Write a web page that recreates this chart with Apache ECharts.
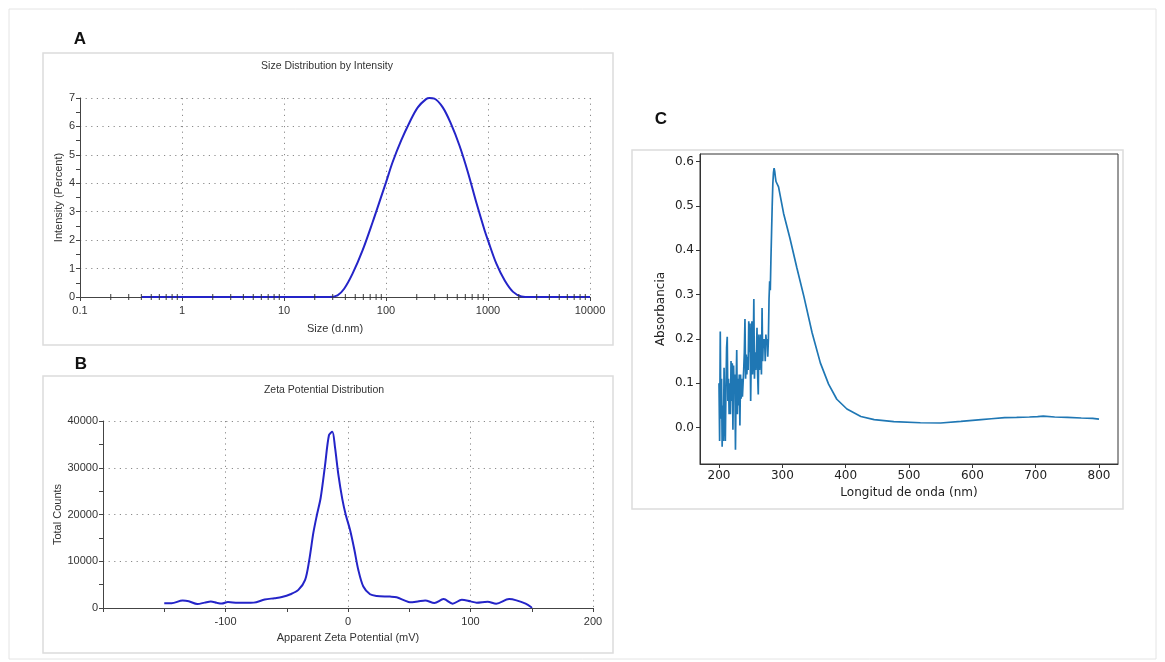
<!DOCTYPE html>
<html>
<head>
<meta charset="utf-8">
<script src="https://cdn.jsdelivr.net/npm/echarts@6/dist/echarts.min.js"></script>
<style>
  html, body { margin: 0; padding: 0; background: #fff; }
  #chart { width: 1165px; height: 662px; }
</style>
</head>
<body>
<div id="chart"></div>
<script>
// A - size distribution (log x)
var sizeNm = [0.4, 1, 10, 27.7, 33.5, 38.9, 47, 58.9, 73.9, 92.7, 100, 116, 140.6, 170, 205, 247, 267, 298, 360, 435, 526, 635, 767, 927, 1000, 1208, 1459, 1762, 2128, 2600, 10000];
var intensityPct = [0, 0, 0, 0, 0.06, 0.29, 0.82, 1.64, 2.63, 3.68, 4.03, 4.74, 5.5, 6.14, 6.67, 6.96, 7.0, 6.98, 6.67, 6.08, 5.32, 4.39, 3.33, 2.34, 1.99, 1.17, 0.58, 0.18, 0.02, 0, 0];
var sizeMinorTicks = [0.2, 0.3, 0.4, 0.5, 0.6, 0.7, 0.8, 0.9, 2, 3, 4, 5, 6, 7, 8, 9, 20, 30, 40, 50, 60, 70, 80, 90,
  200, 300, 400, 500, 600, 700, 800, 900, 2000, 3000, 4000, 5000, 6000, 7000, 8000, 9000];

// B - zeta potential
var zetaMv = [-150, -144, -135, -130, -123, -117, -112, -107, -103, -98, -90, -83, -77, -68, -60, -54, -47, -40.5, -35, -31.6, -28.3, -25.6, -22.3, -18.8, -15.5, -12.8, -10.6, -7.9, -4.6, -1.9, 1.6, 5.2, 8.4, 12.5, 18, 23.4, 34.3, 39.7, 46.5, 50.6, 57, 63, 70.5, 78, 85.4, 92.9, 100, 105, 114, 121, 131.5, 137.5, 145, 149.4, 150];
var zetaCounts = [1000, 1000, 1600, 1450, 850, 1150, 1400, 1100, 950, 1300, 1100, 1100, 1150, 1800, 2100, 2350, 2940, 3870, 6020, 10300, 16060, 19640, 23580, 30400, 37000, 37700, 34340, 28600, 23230, 20000, 16770, 12470, 8170, 4590, 2940, 2580, 2440, 2290, 1580, 1220, 1400, 1630, 1070, 1900, 920, 1780, 1420, 1140, 1350, 920, 1900, 1630, 920, 210, 0];

// C - UV-vis absorbance
var waveNm = [200, 201, 202, 203, 204, 205, 206, 207, 208, 209, 210, 211, 212, 213, 214, 215, 216, 217, 218, 219,
  220, 221, 222, 223, 224, 225, 226, 227, 228, 229, 230, 231, 232, 233, 234, 235, 236, 237, 238, 239,
  240, 241, 242, 243, 244, 245, 246, 247, 248, 249, 250, 251, 252, 253, 254, 255, 256, 257, 258, 259,
  260, 261, 262, 263, 264, 265, 266, 267, 268, 269, 270, 271, 272, 273, 274, 275, 276, 277, 278, 279,
  280, 281, 282, 283, 284, 285, 286, 287, 288, 289, 290, 294, 302, 312, 323, 334, 347, 360, 373, 386,
  402, 424, 445, 476, 518, 550, 582, 614, 630, 651, 670, 690, 703, 712, 730, 750, 772, 790, 800];
var absorbance = [0.10, -0.03, 0.217, 0.02, 0.11, -0.043, 0.05, -0.03, 0.135, 0.03, -0.03, 0.09, 0.18, 0.205, 0.06, 0.11, 0.03, 0.10, 0.03, 0.15,
  0.06, 0.145, -0.005, 0.14, 0.08, 0.12, -0.05, 0.09, 0.175, 0.03, 0.11, 0.05, 0.12, 0.005, 0.12, 0.065, 0.11, 0.07, 0.10, 0.13,
  0.17, 0.245, 0.11, 0.165, 0.12, 0.16, 0.13, 0.24, 0.17, 0.235, 0.06, 0.17, 0.24, 0.12, 0.165, 0.29, 0.11, 0.17, 0.13, 0.16,
  0.225, 0.12, 0.075, 0.21, 0.13, 0.17, 0.21, 0.12, 0.27, 0.15, 0.20, 0.18, 0.20, 0.15, 0.21, 0.19, 0.20, 0.16, 0.20, 0.29,
  0.33, 0.31, 0.38, 0.44, 0.50, 0.55, 0.575, 0.585, 0.578, 0.565, 0.555, 0.543, 0.483, 0.427, 0.36, 0.296, 0.214, 0.146, 0.098, 0.064,
  0.042, 0.025, 0.018, 0.0135, 0.011, 0.0105, 0.014, 0.018, 0.02, 0.0224, 0.023, 0.024, 0.025, 0.026, 0.024, 0.023, 0.0217, 0.021, 0.019];
var waveTicks = [200, 300, 400, 500, 600, 700, 800];
var absTicks = [0, 0.1, 0.2, 0.3, 0.4, 0.5, 0.6];

function zip(xs, ys) {
  return xs.map(function (x, i) { return [x, ys[i]]; });
}

var arial = '"Liberation Sans", Arial, sans-serif';
var dejavu = '"DejaVu Sans", sans-serif';
var blue = '#2424c8';
var dotted = { color: '#8a8a8a', width: 1, type: [1.2, 4.4] };

function malvernAxis(extra) {
  var base = {
    axisLine: { show: true, onZero: false, lineStyle: { color: '#444', width: 1 } },
    axisTick: { show: true, inside: false, length: 4, lineStyle: { color: '#444' } },
    axisLabel: { color: '#333', fontSize: 11, fontFamily: arial },
    nameTextStyle: { color: '#333', fontSize: 11, fontFamily: arial },
    nameLocation: 'middle',
    splitLine: { show: true, lineStyle: dotted }
  };
  return Object.assign(base, extra);
}

var chart = echarts.init(document.getElementById('chart'));
var option = {
  animation: false,
  backgroundColor: '#fff',
  graphic: [
    { type: 'rect', shape: { x: 9, y: 9, width: 1147, height: 650 }, style: { fill: 'none', stroke: '#e4e4e4', lineWidth: 1 }, silent: true },
    { type: 'rect', shape: { x: 43, y: 53, width: 570, height: 292 }, style: { fill: 'none', stroke: '#dcdcdc', lineWidth: 1.5 }, silent: true },
    { type: 'rect', shape: { x: 43, y: 376, width: 570, height: 277 }, style: { fill: 'none', stroke: '#dcdcdc', lineWidth: 1.5 }, silent: true },
    { type: 'rect', shape: { x: 632, y: 150, width: 491, height: 359 }, style: { fill: 'none', stroke: '#dcdcdc', lineWidth: 1.5 }, silent: true },
    { type: 'text', x: 80, y: 39, style: { text: 'A', align: 'center', verticalAlign: 'middle', fontSize: 17, fontWeight: 'bold', fontFamily: arial, fill: '#111' } },
    { type: 'text', x: 81, y: 364, style: { text: 'B', align: 'center', verticalAlign: 'middle', fontSize: 17, fontWeight: 'bold', fontFamily: arial, fill: '#111' } },
    { type: 'text', x: 661, y: 119, style: { text: 'C', align: 'center', verticalAlign: 'middle', fontSize: 17, fontWeight: 'bold', fontFamily: arial, fill: '#111' } },
    { type: 'text', x: 327, y: 66, style: { text: 'Size Distribution by Intensity', align: 'center', verticalAlign: 'middle', fontSize: 10.5, fontFamily: arial, fill: '#333' } },
    { type: 'text', x: 324, y: 390, style: { text: 'Zeta Potential Distribution', align: 'center', verticalAlign: 'middle', fontSize: 10.5, fontFamily: arial, fill: '#333' } }
  ],
  grid: [
    { left: 80, top: 98, width: 510, height: 199 },
    { left: 103, top: 421, width: 490, height: 187 },
    { left: 700, top: 154, width: 418, height: 310, show: true, borderColor: '#333', borderWidth: 1, backgroundColor: 'transparent' }
  ],
  xAxis: [
    malvernAxis({
      gridIndex: 0, type: 'log', logBase: 10, min: 0.1, max: 10000,
      name: 'Size (d.nm)', nameGap: 26,
      axisLabel: { color: '#333', fontSize: 11, fontFamily: arial, margin: 8,
        formatter: function (v) { return String(+(+v).toPrecision(3)); } }
    }),
    malvernAxis({
      gridIndex: 1, type: 'value', min: -200, max: 200, interval: 100,
      name: 'Apparent Zeta Potential (mV)', nameGap: 24,
      minorTick: { show: true, splitNumber: 2, length: 4, lineStyle: { color: '#444' } },
      axisLabel: { color: '#333', fontSize: 11, fontFamily: arial, margin: 8,
        formatter: function (v) { return v === -200 ? '' : String(v); } }
    }),
    {
      gridIndex: 2, type: 'value', min: 170, max: 830,
      name: 'Longitud de onda (nm)', nameLocation: 'middle', nameGap: 23,
      nameTextStyle: { color: '#222', fontSize: 12, fontFamily: dejavu },
      axisLine: { show: true, onZero: false, lineStyle: { color: '#333', width: 1 } },
      axisTick: { show: true, length: 4, customValues: waveTicks, lineStyle: { color: '#333' } },
      axisLabel: { color: '#222', fontSize: 12, fontFamily: dejavu, margin: 6, customValues: waveTicks },
      splitLine: { show: false }
    }
  ],
  yAxis: [
    malvernAxis({
      gridIndex: 0, type: 'value', min: 0, max: 7, interval: 1,
      name: 'Intensity (Percent)', nameGap: 16,
      minorTick: { show: true, splitNumber: 2, length: 4, lineStyle: { color: '#444' } },
      axisLabel: { color: '#333', fontSize: 11, fontFamily: arial, margin: 5 }
    }),
    malvernAxis({
      gridIndex: 1, type: 'value', min: 0, max: 40000, interval: 10000,
      name: 'Total Counts', nameGap: 38,
      minorTick: { show: true, splitNumber: 2, length: 4, lineStyle: { color: '#444' } },
      axisLabel: { color: '#333', fontSize: 11, fontFamily: arial, margin: 5,
        formatter: function (v) { return String(v); } }
    }),
    {
      gridIndex: 2, type: 'value', min: -0.082, max: 0.617,
      name: 'Absorbancia', nameLocation: 'middle', nameGap: 33,
      nameTextStyle: { color: '#222', fontSize: 12, fontFamily: dejavu },
      axisLine: { show: true, onZero: false, lineStyle: { color: '#333', width: 1 } },
      axisTick: { show: true, length: 4, customValues: absTicks, lineStyle: { color: '#333' } },
      axisLabel: { color: '#222', fontSize: 12, fontFamily: dejavu, margin: 6, customValues: absTicks,
        formatter: function (v) { return (+v).toFixed(1); } },
      splitLine: { show: false }
    }
  ],
  series: [
    {
      type: 'line', xAxisIndex: 0, yAxisIndex: 0, data: zip(sizeNm, intensityPct),
      showSymbol: false, smooth: 0.35, lineStyle: { color: blue, width: 2 }, itemStyle: { color: blue }
    },
    {
      type: 'scatter', xAxisIndex: 0, yAxisIndex: 0, z: 4, silent: true,
      data: sizeMinorTicks.map(function (v) { return [v, 0]; }),
      symbol: 'rect', symbolSize: [1.2, 6], itemStyle: { color: '#333' }
    },
    {
      type: 'line', xAxisIndex: 1, yAxisIndex: 1, data: zip(zetaMv, zetaCounts),
      showSymbol: false, smooth: 0.3, lineStyle: { color: blue, width: 2 }, itemStyle: { color: blue }
    },
    {
      type: 'line', xAxisIndex: 2, yAxisIndex: 2, data: zip(waveNm, absorbance),
      showSymbol: false, lineStyle: { color: '#1f77b4', width: 1.7 }, itemStyle: { color: '#1f77b4' }
    }
  ]
};
chart.setOption(option);
</script>
</body>
</html>
